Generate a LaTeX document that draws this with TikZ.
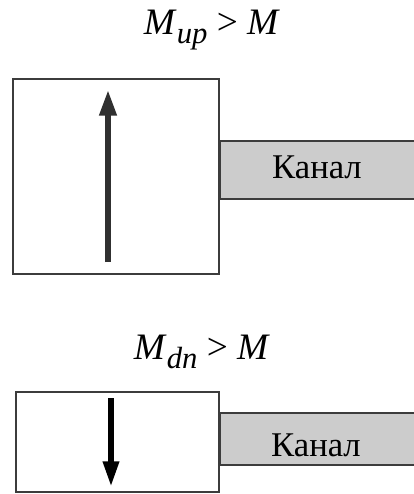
\documentclass[tikz,border=0pt]{standalone}
\usepackage{fontspec}
\setmainfont{Liberation Serif}
\usetikzlibrary{positioning,calc,arrows.meta}
\definecolor{edgegray}{RGB}{60,60,60}
\definecolor{chanfill}{RGB}{204,204,204}
\newcommand{\lowidx}[1]{{\fontsize{23}{23}\selectfont\raisebox{-7pt}{\textit{#1}}}}

\begin{document}
\begin{tikzpicture}[
      x=0.75pt, y=-0.75pt,
      box/.style={draw=edgegray, line width=1.5pt, fill=white, inner sep=0pt},
      chan/.style={draw=edgegray, line width=1.5pt, fill=chanfill, inner sep=0pt,
        minimum width=150pt, anchor=west},
      cond/.style={font=\fontsize{28}{32}\selectfont, anchor=base},
      lbl/.style={font=\fontsize{26}{30}\selectfont, anchor=base},
      motion/.style={line width=5pt}
    ]
    \useasboundingbox (0,0) rectangle (414,494);
    % ---------------- upper case: M_up > M ----------------
    \node[cond] (upcond) at (212,34) {\textit{M}\lowidx{up}\ >\ \textit{M}};
    \node[chan, minimum height=43.5pt] (upchan) at (219,170) {};
    \node[box, minimum width=154.5pt, minimum height=146.25pt] (upbox) at (116,176.5) {};
    \node[lbl] (uplbl) at (317,178) {Канал};
    \draw[motion, edgegray!80!black, -{Triangle[length=20pt, width=12pt]}]
      ($(upbox.south west)+(96,-13)$) -- ($(upbox.north west)+(96,11)$);
    % ---------------- lower case: M_dn > M ----------------
    \node[cond] (dncond) at (202,359) {\textit{M}\lowidx{dn}\ >\ \textit{M}};
    \node[chan, minimum height=39pt] (dnchan) at (219,439) {};
    \node[box, minimum width=152.25pt, minimum height=75pt] (dnbox) at (117.5,442) {};
    \node[lbl] (dnlbl) at (316,456) {Канал};
    \draw[motion, black, -{Triangle[length=20pt, width=11pt]}]
      ($(dnbox.north west)+(96,7)$) -- ($(dnbox.south west)+(96,-5)$);
  \end{tikzpicture}
\end{document}
